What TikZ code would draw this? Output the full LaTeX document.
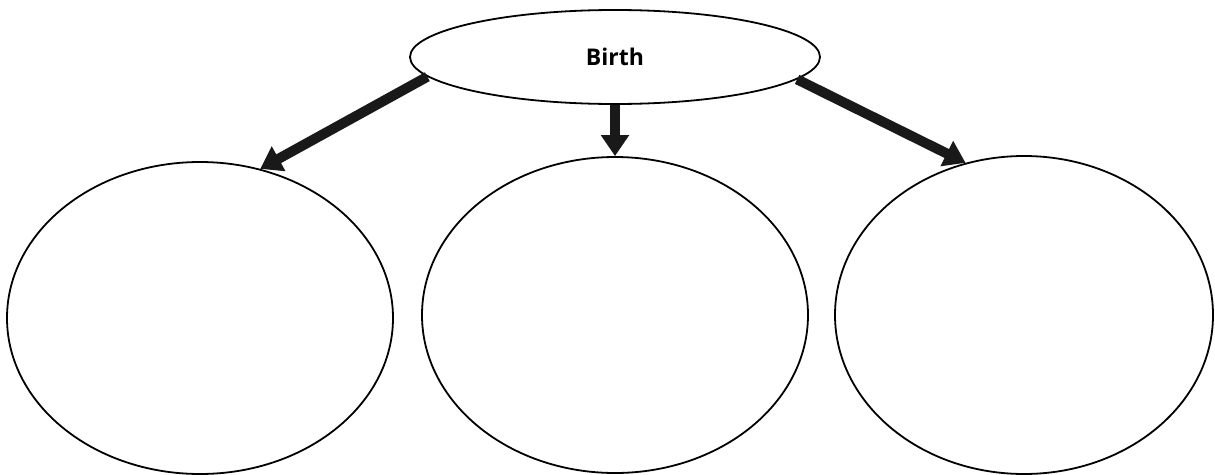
\documentclass[tikz,border=0pt]{standalone}
\usepackage{fontspec}
\setmainfont{Open Sans}
\usetikzlibrary{shapes.geometric,arrows.meta}
\begin{document}
\begin{tikzpicture}[x=1pt,y=-1pt,
  oval/.style={draw=black,line width=1.8pt,ellipse,inner sep=0pt},
  bigarrow/.style={line width=10pt,draw=black!90,-{Triangle[width=27pt,length=21pt]}}]
\useasboundingbox (0,0) rectangle (1215,474);
\node[oval,minimum width=410pt,minimum height=94pt] (birth) at (615,57) {\fontsize{23}{28}\selectfont\bfseries Birth};
\node[oval,minimum width=386pt,minimum height=312pt] (left) at (200,318) {};
\node[oval,minimum width=386pt,minimum height=316pt] (mid) at (615,315) {};
\node[oval,minimum width=378pt,minimum height=318pt] (right) at (1024,315) {};
\draw[bigarrow] (birth.186) -- (left.68);
\draw[bigarrow] (birth.south) -- (mid.north);
\draw[bigarrow] (birth.353) -- (right.111);
\end{tikzpicture}
\end{document}
